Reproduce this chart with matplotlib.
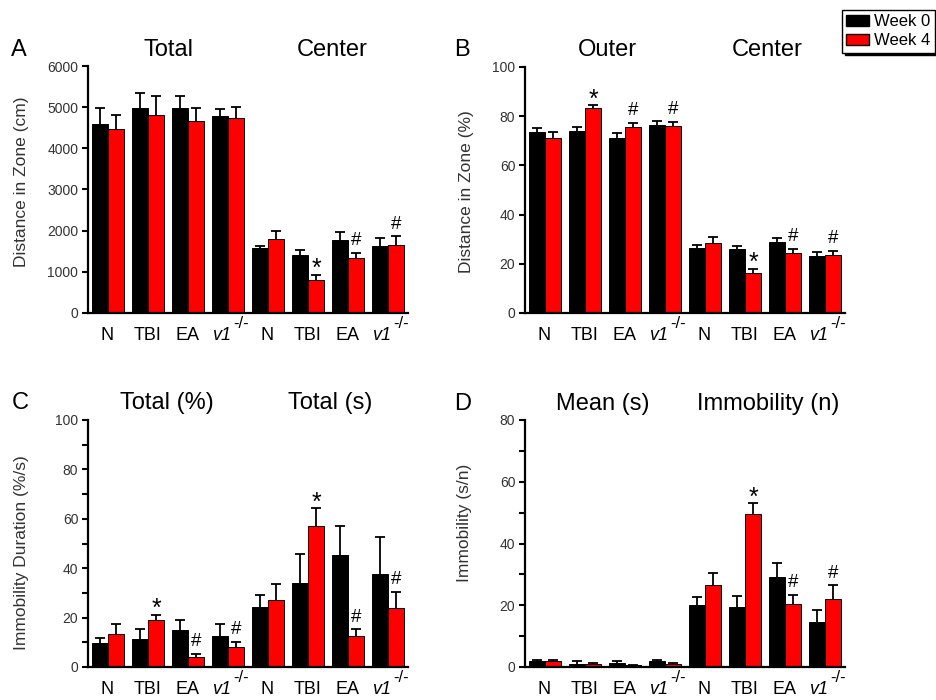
import matplotlib
matplotlib.use('Agg')
import matplotlib.pyplot as plt
import numpy as np
from matplotlib.patches import Patch
import matplotlib.transforms as mtransforms

plt.rcParams['font.family'] = ['Liberation Sans', 'DejaVu Sans']

# ---------------- data ----------------
groups = ['N', 'TBI', 'EA', 'v1', 'N', 'TBI', 'EA', 'v1']
legend_labels = ['Week 0', 'Week 4']

# Panel A: Distance in zone (cm) -- Total / Center
a_week0 = [4580, 4970, 4970, 4785, 1573, 1400, 1776, 1620]
a_week0_err = [410, 380, 300, 170, 65, 130, 195, 195]
a_week4 = [4480, 4820, 4660, 4740, 1790, 795, 1330, 1663]
a_week4_err = [330, 450, 330, 270, 200, 130, 130, 200]
a_marks = ['', '', '', '', '', '*', '#', '#']

# Panel B: Distance in zone (%) -- Outer / Center
b_week0 = [73.6, 74.0, 71.1, 76.6, 26.3, 25.9, 28.7, 23.2]
b_week0_err = [1.6, 1.6, 2.0, 1.6, 1.5, 1.4, 1.9, 1.6]
b_week4 = [71.1, 83.3, 75.7, 76.2, 28.6, 16.4, 24.4, 23.7]
b_week4_err = [2.5, 1.2, 1.6, 1.6, 2.2, 1.5, 1.6, 1.6]
b_marks = ['', '*', '#', '#', '', '*', '#', '#']

# Panel C: Immobility duration -- Total (%) / Total (s)
c_week0 = [9.9, 11.2, 15.0, 12.4, 24.3, 34.2, 45.3, 37.6]
c_week0_err = [1.9, 4.1, 4.1, 4.9, 5.0, 11.7, 11.7, 15.2]
c_week4 = [13.5, 19.2, 4.2, 8.0, 27.3, 57.2, 12.7, 23.8]
c_week4_err = [3.9, 1.9, 1.2, 2.3, 6.3, 7.0, 2.6, 6.7]
c_marks = ['', '*', '#', '#', '', '*', '#', '#']

# Panel D: Immobility -- Mean (s) / Immobility (n)
d_week0 = [1.8, 1.1, 1.4, 1.8, 20.1, 19.5, 29.0, 14.7]
d_week0_err = [0.6, 0.8, 0.5, 0.6, 2.6, 3.5, 4.6, 3.7]
d_week4 = [1.9, 1.1, 0.5, 1.1, 26.6, 49.7, 20.4, 22.1]
d_week4_err = [0.5, 0.3, 0.3, 0.1, 3.7, 3.3, 3.0, 4.4]
d_marks = ['', '', '', '', '', '*', '#', '#']

# ---------------- layout ----------------
W, H = 937, 700
fig = plt.figure(figsize=(W / 100, H / 100), dpi=100)


def fx(x):
    return x / W


def fy(y):
    return 1 - y / H


def make_axes(x0, y0, x1, y1):
    return fig.add_axes([fx(x0), fy(y1), fx(x1) - fx(x0), fy(y0) - fy(y1)])


panels = [
    dict(rect=(88, 66, 408, 313), w0=a_week0, e0=a_week0_err, w4=a_week4, e4=a_week4_err,
         marks=a_marks, ylim=(0, 6000), major=1000, minor=None,
         ylabel='Distance in Zone (cm)', ylab_xy=(22, 182),
         letter=('A', 19, 50), titles=[('Total', 169, 50), ('Center', 332, 50)]),
    dict(rect=(525, 67, 845, 313), w0=b_week0, e0=b_week0_err, w4=b_week4, e4=b_week4_err,
         marks=b_marks, ylim=(0, 100), major=20, minor=None,
         ylabel='Distance in Zone (%)', ylab_xy=(467, 192),
         letter=('B', 462, 50), titles=[('Outer', 607, 50), ('Center', 767, 50)]),
    dict(rect=(88, 420, 408, 667), w0=c_week0, e0=c_week0_err, w4=c_week4, e4=c_week4_err,
         marks=c_marks, ylim=(0, 100), major=20, minor=10,
         ylabel='Immobility Duration (%/s)', ylab_xy=(22, 553),
         letter=('C', 20, 403), titles=[('Total (%)', 167, 403), ('Total (s)', 330, 403)]),
    dict(rect=(525, 420, 845, 667), w0=d_week0, e0=d_week0_err, w4=d_week4, e4=d_week4_err,
         marks=d_marks, ylim=(0, 80), major=20, minor=10,
         ylabel='Immobility (s/n)', ylab_xy=(465, 523),
         letter=('D', 463, 404), titles=[('Mean (s)', 603, 404), ('Immobility (n)', 768, 404)]),
]

bw = 0.41
tick_col = '#333333'

for p in panels:
    ax = make_axes(*p['rect'])
    x = np.arange(len(groups))
    for vals, errs, col, off in [(p['w0'], p['e0'], 'black', -bw / 2),
                                 (p['w4'], p['e4'], '#ff0000', bw / 2)]:
        vals = np.asarray(vals, float)
        errs = np.asarray(errs, float)
        ax.bar(x + off, vals, width=bw, color=col, edgecolor='black', linewidth=0.7, zorder=2)
        _, caps, _ = ax.errorbar(x + off, vals, yerr=[np.zeros_like(errs), errs], fmt='none',
                                 ecolor='black', elinewidth=1.3, capsize=3.5, capthick=1.3,
                                 zorder=3)
        for c in caps:
            if np.allclose(c.get_ydata(), vals):
                c.set_visible(False)
    # significance marks above week-4 bars
    for i, m in enumerate(p['marks']):
        if not m:
            continue
        top = p['w4'][i] + p['e4'][i]
        if m == '#':
            dy, fs = 5.5, 13.5
        else:
            dy, fs = -1.0, 18
        tr = mtransforms.offset_copy(ax.transData, fig=fig, x=0, y=dy, units='points')
        ax.text(i + bw / 2, top, m, ha='center', va='baseline', fontsize=fs,
                transform=tr, color='black')

    ax.set_xlim(-0.5, len(groups) - 0.5)
    ax.set_ylim(*p['ylim'])
    ax.set_yticks(np.arange(p['ylim'][0], p['ylim'][1] + 0.1, p['major']))
    if p['minor']:
        ax.set_yticks(np.arange(p['ylim'][0], p['ylim'][1] + 0.1, p['minor']), minor=True)
    ax.set_xticks([])
    for s in ['top', 'right']:
        ax.spines[s].set_visible(False)
    for s in ['left', 'bottom']:
        ax.spines[s].set_linewidth(1.6)
    ax.tick_params(axis='y', which='major', length=4, width=1.5, labelsize=10,
                   labelcolor=tick_col, pad=3)
    ax.tick_params(axis='y', which='minor', length=4, width=1.5)

    # group labels under the bars
    tlab = mtransforms.blended_transform_factory(ax.transData, ax.transAxes)
    for i, g in enumerate(groups):
        if g == 'v1':
            tr = mtransforms.offset_copy(tlab, fig=fig, x=-5, y=-16.5, units='points')
            ax.text(i, 0, g, ha='center', va='center', fontsize=13, style='italic',
                    transform=tr, clip_on=False)
            tr2 = mtransforms.offset_copy(tlab, fig=fig, x=9.5, y=-7.5, units='points')
            ax.text(i, 0, '-/-', ha='center', va='center', fontsize=12,
                    transform=tr2, clip_on=False)
        else:
            tr = mtransforms.offset_copy(tlab, fig=fig, x=-0.5, y=-16.5, units='points')
            ax.text(i, 0, g, ha='center', va='center', fontsize=13,
                    transform=tr, clip_on=False)

    # y label, panel letter, section titles
    fig.text(fx(p['ylab_xy'][0]), fy(p['ylab_xy'][1]), p['ylabel'], rotation=90,
             ha='center', va='center', fontsize=12.5, color=tick_col)
    lt, lx, ly = p['letter']
    fig.text(fx(lx), fy(ly), lt, ha='center', va='center', fontsize=17)
    for t, tx, ty in p['titles']:
        fig.text(fx(tx), fy(ty), t, ha='center', va='center', fontsize=17)

handles = [Patch(facecolor='black', edgecolor='black'),
           Patch(facecolor='#ff0000', edgecolor='black')]
fig.legend(handles, legend_labels, loc='upper left', bbox_to_anchor=(fx(842), fy(10)),
           frameon=True, fancybox=False, edgecolor='black', framealpha=1,
           shadow={'color': 'black', 'alpha': 1}, fontsize=12,
           handlelength=1.4, handleheight=0.6, borderpad=0.25, labelspacing=0.25,
           handletextpad=0.3, borderaxespad=0)

fig.savefig('out.png', dpi=100)
